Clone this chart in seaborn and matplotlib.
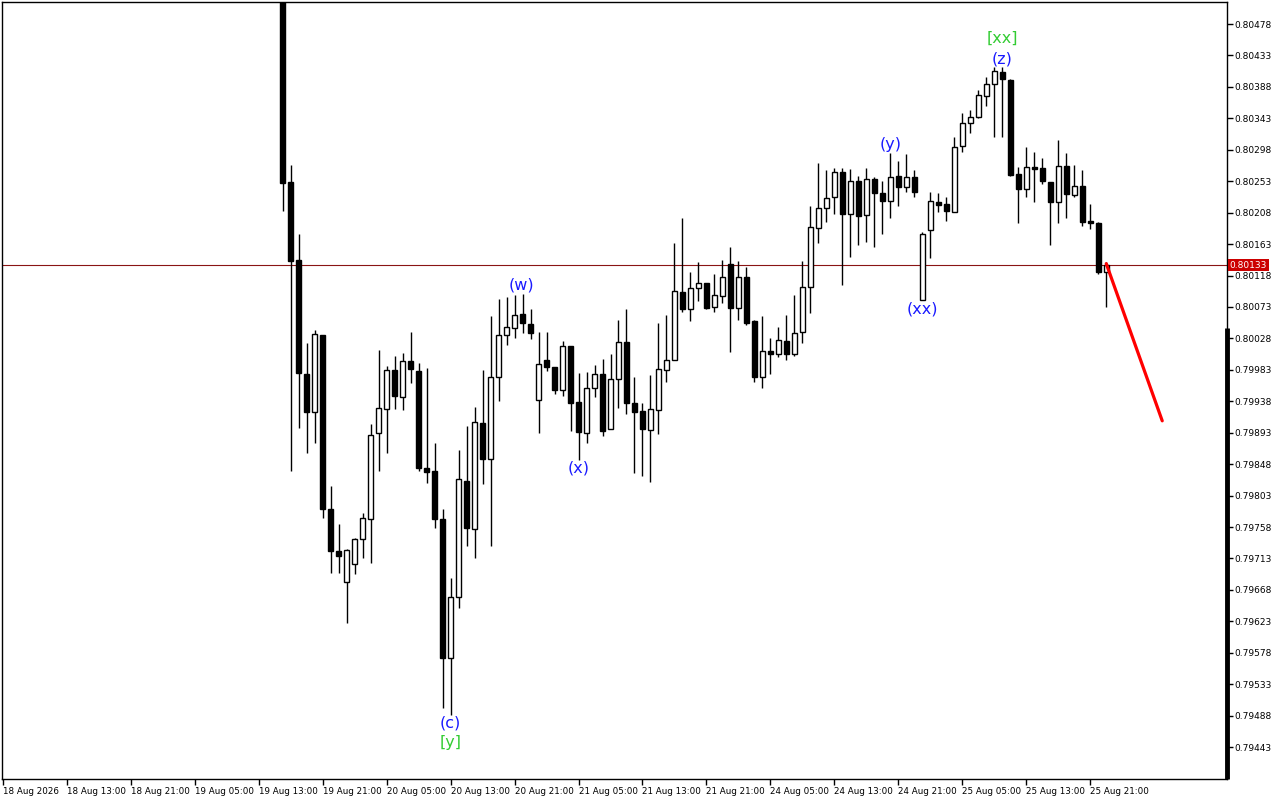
import matplotlib
matplotlib.use("Agg")
import matplotlib.pyplot as plt
import seaborn as sns
import pandas as pd

# ---------------- data (hourly candles) ----------------
opens = [0.80600, 0.80252, 0.80140, 0.79977, 0.79923, 0.80033, 0.79784, 0.79724, 0.79679, 0.79705,
         0.79741, 0.79770, 0.79893, 0.79927, 0.79983, 0.79944, 0.79996, 0.79981, 0.79842, 0.79838,
         0.79770, 0.79570, 0.79658, 0.79824, 0.79755, 0.79907, 0.79855, 0.79973, 0.80033, 0.80043,
         0.80063, 0.80049, 0.79940, 0.79997, 0.79987, 0.79954, 0.80017, 0.79937, 0.79893, 0.79957,
         0.79977, 0.79898, 0.79970, 0.80023, 0.79936, 0.79924, 0.79897, 0.79926, 0.79983, 0.79997,
         0.80094, 0.80070, 0.80100, 0.80107, 0.80073, 0.80089, 0.80134, 0.80072, 0.80116, 0.80053,
         0.79973, 0.80010, 0.80006, 0.80024, 0.80006, 0.80037, 0.80102, 0.80186, 0.80215, 0.80230,
         0.80266, 0.80206, 0.80253, 0.80205, 0.80256, 0.80236, 0.80225, 0.80260, 0.80245, 0.80259,
         0.80083, 0.80183, 0.80223, 0.80220, 0.80209, 0.80303, 0.80336, 0.80345, 0.80375, 0.80392,
         0.80409, 0.80398, 0.80263, 0.80242, 0.80273, 0.80272, 0.80252, 0.80223, 0.80275, 0.80233,
         0.80246, 0.80196, 0.80193, 0.80123]
highs = [0.80620, 0.80276, 0.80177, 0.80021, 0.80040, 0.80033, 0.79817, 0.79762, 0.79727, 0.79742,
         0.79778, 0.79905, 0.80011, 0.79988, 0.80003, 0.80007, 0.80037, 0.79993, 0.79986, 0.79878,
         0.79784, 0.79685, 0.79868, 0.79903, 0.79930, 0.79983, 0.80060, 0.80084, 0.80087, 0.80090,
         0.80092, 0.80070, 0.80037, 0.80037, 0.79987, 0.80024, 0.80017, 0.79978, 0.79980, 0.79990,
         0.79998, 0.80006, 0.80054, 0.80070, 0.79973, 0.79936, 0.79976, 0.80050, 0.80061, 0.80165,
         0.80200, 0.80123, 0.80137, 0.80107, 0.80120, 0.80140, 0.80159, 0.80139, 0.80130, 0.80054,
         0.80060, 0.80029, 0.80044, 0.80061, 0.80090, 0.80139, 0.80218, 0.80279, 0.80269, 0.80272,
         0.80272, 0.80270, 0.80260, 0.80272, 0.80259, 0.80253, 0.80293, 0.80282, 0.80292, 0.80269,
         0.80180, 0.80238, 0.80236, 0.80230, 0.80316, 0.80351, 0.80355, 0.80384, 0.80402, 0.80416,
         0.80416, 0.80399, 0.80273, 0.80302, 0.80295, 0.80286, 0.80252, 0.80312, 0.80293, 0.80276,
         0.80269, 0.80220, 0.80195, 0.80137]
lows = [0.80211, 0.79838, 0.79900, 0.79864, 0.79878, 0.79771, 0.79692, 0.79692, 0.79621, 0.79691,
        0.79714, 0.79707, 0.79838, 0.79864, 0.79927, 0.79926, 0.79964, 0.79838, 0.79821, 0.79757,
        0.79499, 0.79489, 0.79642, 0.79731, 0.79714, 0.79820, 0.79731, 0.79938, 0.80019, 0.80029,
        0.80036, 0.80027, 0.79893, 0.79981, 0.79948, 0.79946, 0.79895, 0.79854, 0.79878, 0.79944,
        0.79888, 0.79898, 0.79928, 0.79920, 0.79835, 0.79831, 0.79822, 0.79891, 0.79966, 0.79997,
        0.80066, 0.80053, 0.80082, 0.80070, 0.80066, 0.80079, 0.80009, 0.80054, 0.80047, 0.79966,
        0.79957, 0.79977, 0.80001, 0.79997, 0.80003, 0.80021, 0.80064, 0.80165, 0.80195, 0.80206,
        0.80104, 0.80145, 0.80162, 0.80166, 0.80159, 0.80177, 0.80200, 0.80218, 0.80238, 0.80230,
        0.80083, 0.80143, 0.80209, 0.80196, 0.80209, 0.80295, 0.80322, 0.80343, 0.80361, 0.80316,
        0.80316, 0.80260, 0.80193, 0.80230, 0.80223, 0.80249, 0.80162, 0.80193, 0.80200, 0.80230,
        0.80189, 0.80185, 0.80120, 0.80073]
closes = [0.80250, 0.80139, 0.79979, 0.79923, 0.80034, 0.79784, 0.79724, 0.79717, 0.79725, 0.79741,
          0.79771, 0.79890, 0.79928, 0.79983, 0.79946, 0.79996, 0.79984, 0.79842, 0.79837, 0.79770,
          0.79570, 0.79658, 0.79827, 0.79757, 0.79908, 0.79855, 0.79973, 0.80033, 0.80044, 0.80061,
          0.80050, 0.80036, 0.79991, 0.79987, 0.79954, 0.80017, 0.79936, 0.79894, 0.79957, 0.79977,
          0.79895, 0.79970, 0.80023, 0.79936, 0.79923, 0.79898, 0.79927, 0.79984, 0.79997, 0.80096,
          0.80070, 0.80100, 0.80107, 0.80072, 0.80090, 0.80116, 0.80072, 0.80116, 0.80050, 0.79973,
          0.80010, 0.80006, 0.80026, 0.80006, 0.80036, 0.80102, 0.80187, 0.80215, 0.80229, 0.80266,
          0.80206, 0.80253, 0.80203, 0.80256, 0.80236, 0.80225, 0.80259, 0.80245, 0.80259, 0.80238,
          0.80177, 0.80225, 0.80219, 0.80210, 0.80302, 0.80336, 0.80345, 0.80376, 0.80392, 0.80411,
          0.80399, 0.80262, 0.80242, 0.80273, 0.80270, 0.80253, 0.80223, 0.80275, 0.80235, 0.80246,
          0.80195, 0.80193, 0.80123, 0.80133]

# time axis labels (bar index of each label; one bar = one hour, weekend skipped)
time_tick_bars = [-35, -27, -19, -11, -3, 5, 13, 21, 29, 37, 45, 53, 61, 69, 77, 85, 93, 101]
time_tick_labels = ["18 Aug 2026", "18 Aug 13:00", "18 Aug 21:00", "19 Aug 05:00", "19 Aug 13:00",
                    "19 Aug 21:00", "20 Aug 05:00", "20 Aug 13:00", "20 Aug 21:00", "21 Aug 05:00",
                    "21 Aug 13:00", "21 Aug 21:00", "24 Aug 05:00", "24 Aug 13:00", "24 Aug 21:00",
                    "25 Aug 05:00", "25 Aug 13:00", "25 Aug 21:00"]
price_ticks = [0.79443, 0.79488, 0.79533, 0.79578, 0.79623, 0.79668, 0.79713, 0.79758, 0.79803,
               0.79848, 0.79893, 0.79938, 0.79983, 0.80028, 0.80073, 0.80118, 0.80163, 0.80208,
               0.80253, 0.80298, 0.80343, 0.80388, 0.80433, 0.80478]
current_price = 0.80133

forecast_bars = [103, 110]
forecast_prices = [0.80135, 0.79910]

wave_labels = ["(w)", "(x)", "(y)", "(xx)", "(z)", "[xx]", "(c)", "[y]"]
wave_bars = [29.9, 37, 76, 80, 90, 90, 21, 21]
wave_prices = [0.80104, 0.79843, 0.80305, 0.80070, 0.80428, 0.80457, 0.79477, 0.79449]
wave_colors = ["#1a1aff", "#1a1aff", "#1a1aff", "#1a1aff", "#1a1aff", "#33cc33", "#1a1aff", "#33cc33"]

# ---------------- drawing ----------------
sns.set_style("white")
plt.rcParams['font.family'] = ['DejaVu Sans']

df = pd.DataFrame({"bar": range(len(opens)), "open": opens, "high": highs,
                   "low": lows, "close": closes})
up = df["close"] >= df["open"]

fig = plt.figure(figsize=(12.8, 8), dpi=100)
fig.patch.set_facecolor("white")
ax = fig.add_axes([2 / 1280, 21 / 800, 1225 / 1280, 777 / 800])
ax.set_facecolor("white")

ax.axhline(current_price, color="#8a1414", lw=0.8, zorder=1)

ax.vlines(df["bar"], df["low"], df["high"], color="black", lw=1.0, zorder=2)
ax.bar(df["bar"][up], (df["close"] - df["open"])[up], bottom=df["open"][up], width=0.6,
       color="white", edgecolor="black", linewidth=1.0, zorder=3)
ax.bar(df["bar"][~up], (df["open"] - df["close"])[~up], bottom=df["close"][~up], width=0.6,
       color="black", edgecolor="black", linewidth=1.0, zorder=3)

sns.lineplot(x=forecast_bars, y=forecast_prices, color="red", lw=2.3, ax=ax, zorder=4)

for t, b, p, c in zip(wave_labels, wave_bars, wave_prices, wave_colors):
    ax.text(b, p, t, color=c, ha="center", va="center", fontsize=11.5, zorder=5)

ax.set_xlim(-35.1, 118.1)
ax.set_ylim(0.793973, 0.805095)

ax.yaxis.tick_right()
ax.set_yticks(price_ticks)
ax.set_yticklabels([f"{p:.5f}" for p in price_ticks])
ax.tick_params(axis="y", direction="out", length=4, width=1, labelsize=6.5, pad=1.5,
               colors="black", right=True, left=False)
ax.set_xticks(time_tick_bars)
ax.set_xticklabels(time_tick_labels, ha="left")
ax.tick_params(axis="x", direction="out", length=4, width=1, labelsize=6.3, pad=1.5,
               colors="black", bottom=True)
ax.grid(False)
for s in ax.spines.values():
    s.set_color("black")
    s.set_linewidth(1.0)

# thick section of right border
ax.plot([1, 1], [0, 0.58], transform=ax.transAxes, color="black", lw=3.5,
        clip_on=False, solid_capstyle="butt", zorder=6)

ax.text(1.002, current_price, f"{current_price:.5f}", transform=ax.get_yaxis_transform(),
        ha="left", va="center", fontsize=6.5, color="white", zorder=7, clip_on=False,
        bbox=dict(boxstyle="square,pad=0.2", fc="#cc0000", ec="none"))

fig.savefig("out.png", dpi=100)
